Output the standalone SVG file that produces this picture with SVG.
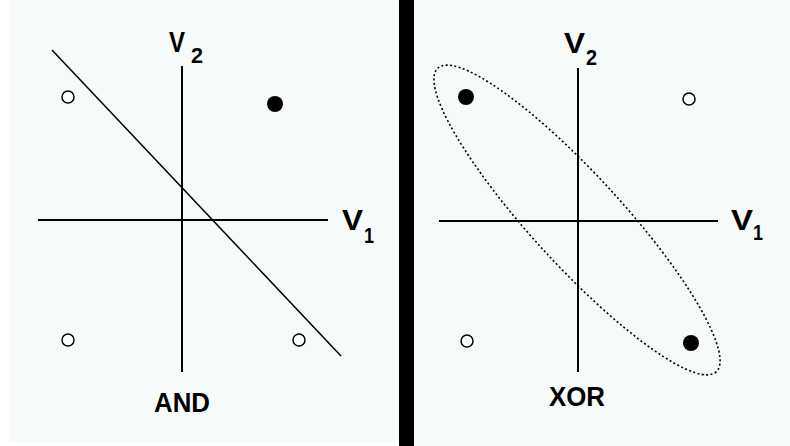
<svg xmlns="http://www.w3.org/2000/svg" width="790" height="446" viewBox="0 0 790 446">
<style>
.ax{stroke:#000;stroke-width:2;fill:none}
.sep{stroke:#000;stroke-width:1.5;fill:none}
.open{fill:#fff;stroke:#000;stroke-width:1.5}
.fill{fill:#000}
.lbl{font-family:"Liberation Sans",Arial,sans-serif;font-weight:bold;fill:#000}
.ell{fill:none;stroke:#000;stroke-width:1.6;stroke-dasharray:2 2.4}
</style>
<rect x="0" y="0" width="790" height="446" fill="#fff"/>
<rect x="9" y="0" width="390" height="442" fill="#f6faf8"/>
<rect x="414" y="0" width="376" height="446" fill="#f6faf8"/>
<rect x="399" y="0" width="15" height="446" fill="#000"/>

<g id="and-panel">
  <g id="and-axes">
    <line class="ax" x1="182" y1="66" x2="182" y2="372"/>
    <line class="ax" x1="38" y1="220" x2="328" y2="220"/>
  </g>
  <g id="and-separator">
    <line class="sep" x1="52" y1="50" x2="341" y2="356"/>
  </g>
  <g id="and-p00"><circle class="open" cx="68" cy="340" r="6"/></g>
  <g id="and-p01"><circle class="open" cx="68" cy="97" r="6"/></g>
  <g id="and-p10"><circle class="open" cx="299" cy="340" r="6"/></g>
  <g id="and-p11"><circle class="fill" cx="275" cy="104" r="8"/></g>
  <g id="and-labels">
    <text class="lbl" x="169" y="52" font-size="30" textLength="16" lengthAdjust="spacingAndGlyphs">V</text>
    <text class="lbl" x="191" y="63" font-size="22" textLength="12" lengthAdjust="spacingAndGlyphs">2</text>
    <text class="lbl" x="342" y="230" font-size="30" textLength="21" lengthAdjust="spacingAndGlyphs">V</text>
    <text class="lbl" x="364" y="243" font-size="22" textLength="10" lengthAdjust="spacingAndGlyphs">1</text>
    <text class="lbl" x="154" y="412" font-size="27" textLength="56" lengthAdjust="spacingAndGlyphs">AND</text>
  </g>
</g>

<g id="xor-panel">
  <g id="xor-axes">
    <line class="ax" x1="578" y1="68" x2="578" y2="372"/>
    <line class="ax" x1="439" y1="221" x2="718" y2="221"/>
  </g>
  <g id="xor-ellipse">
    <ellipse class="ell" cx="577" cy="220" rx="206" ry="45" transform="rotate(47.5 577 220)"/>
  </g>
  <g id="xor-p00"><circle class="open" cx="467" cy="341" r="6"/></g>
  <g id="xor-p01"><circle class="fill" cx="466" cy="97" r="8"/></g>
  <g id="xor-p10"><circle class="fill" cx="691" cy="343" r="8"/></g>
  <g id="xor-p11"><circle class="open" cx="689" cy="99" r="6"/></g>
  <g id="xor-labels">
    <text class="lbl" x="564" y="53" font-size="30" textLength="21" lengthAdjust="spacingAndGlyphs">V</text>
    <text class="lbl" x="586" y="65" font-size="22" textLength="11" lengthAdjust="spacingAndGlyphs">2</text>
    <text class="lbl" x="731" y="230" font-size="30" textLength="22" lengthAdjust="spacingAndGlyphs">V</text>
    <text class="lbl" x="753" y="240" font-size="22" textLength="10" lengthAdjust="spacingAndGlyphs">1</text>
    <text class="lbl" x="549" y="406" font-size="27" textLength="56" lengthAdjust="spacingAndGlyphs">XOR</text>
  </g>
</g>
</svg>
